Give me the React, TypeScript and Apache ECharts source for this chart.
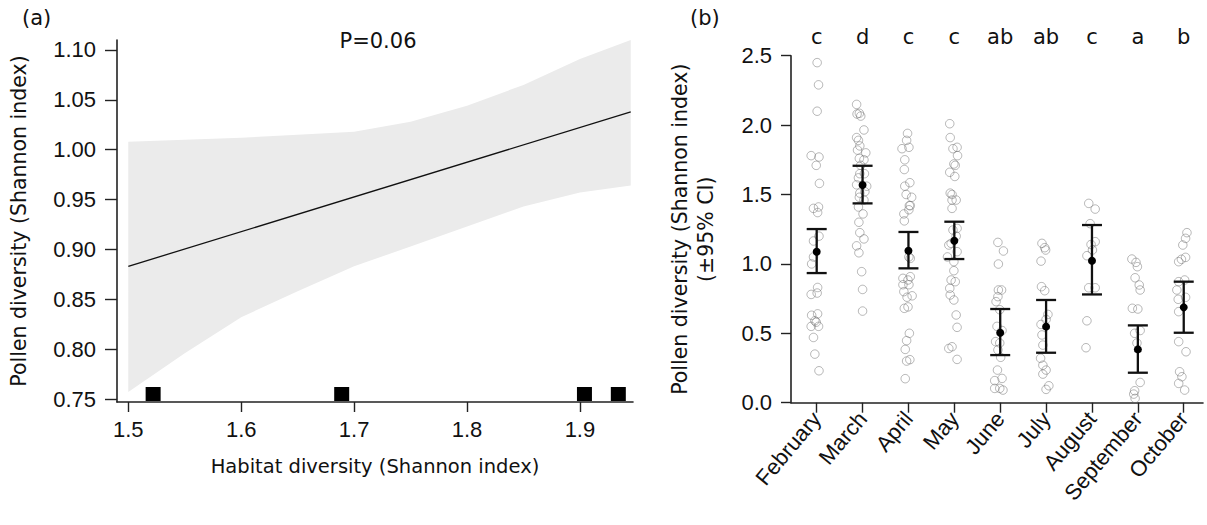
import React, { useEffect, useRef } from "react";
import * as echarts from "echarts";

// ---------- Panel (a) data ----------
const habitatTicks = [1.5, 1.6, 1.7, 1.8, 1.9];
const pollenTicksA = [0.75, 0.8, 0.85, 0.9, 0.95, 1.0, 1.05, 1.1];
const bandX = [1.5, 1.55, 1.6, 1.65, 1.7, 1.75, 1.8, 1.85, 1.9, 1.945];
const bandUpper = [1.008, 1.01, 1.012, 1.015, 1.018, 1.028, 1.044, 1.065, 1.091, 1.11];
const bandLower = [0.757, 0.796, 0.832, 0.858, 0.883, 0.903, 0.923, 0.943, 0.957, 0.964];
const fitX = [1.5, 1.945];
const fitY = [0.883, 1.038];
const rugX = [1.522, 1.689, 1.904, 1.934];
const rugY = 0.75;

// ---------- Panel (b) data ----------
const months = ["February", "March", "April", "May", "June", "July", "August", "September", "October"];
const letters = ["c", "d", "c", "c", "ab", "ab", "c", "a", "b"];
const means = [1.088, 1.568, 1.095, 1.167, 0.504, 0.548, 1.023, 0.384, 0.687];
const ciLow = [0.934, 1.436, 0.968, 1.035, 0.343, 0.36, 0.78, 0.216, 0.504];
const ciHigh = [1.251, 1.707, 1.23, 1.304, 0.675, 0.74, 1.28, 0.557, 0.872];

// [jitter offset (category units), Shannon index]
const febPoints = [[0.01, 2.45], [0.04, 2.29], [0.01, 2.1], [-0.12, 1.78], [0.05, 1.77], [-0.01, 1.71], [0.06, 1.58], [-0.07, 1.4], [0.04, 1.41], [0.02, 1.37], [0.05, 1.2], [-0.07, 1.165], [-0.07, 1.05], [-0.11, 1.0], [0.02, 0.83], [-0.12, 0.78], [0.01, 0.79], [-0.11, 0.63], [0.02, 0.64], [-0.04, 0.59], [-0.12, 0.55], [0.04, 0.55], [-0.01, 0.58], [-0.07, 0.47], [-0.04, 0.35], [0.05, 0.23]];
const marPoints = [[-0.13, 2.149], [-0.12, 2.08], [-0.04, 2.065], [-0.07, 2.085], [0.03, 1.965], [-0.13, 1.91], [-0.09, 1.89], [-0.06, 1.85], [-0.11, 1.82], [0.07, 1.8], [-0.07, 1.76], [0.03, 1.75], [-0.04, 1.71], [-0.06, 1.65], [0.04, 1.65], [-0.09, 1.62], [-0.13, 1.57], [0.09, 1.56], [-0.06, 1.51], [0.05, 1.52], [-0.07, 1.48], [0.03, 1.46], [-0.09, 1.41], [0.01, 1.36], [-0.08, 1.3], [-0.06, 1.225], [0.03, 1.18], [-0.13, 1.13], [-0.08, 1.08], [-0.02, 0.944], [0.0, 0.816], [0.0, 0.66]];
const aprPoints = [[-0.02, 1.94], [-0.04, 1.89], [-0.14, 1.83], [0.01, 1.84], [-0.08, 1.75], [-0.09, 1.68], [-0.08, 1.56], [0.03, 1.585], [-0.05, 1.5], [0.07, 1.48], [0.04, 1.42], [0.02, 1.42], [-0.1, 1.36], [0.01, 1.39], [-0.09, 1.31], [0.01, 1.05], [0.04, 1.04], [-0.12, 0.896], [-0.01, 0.884], [0.04, 0.908], [-0.12, 0.85], [0.01, 0.85], [-0.1, 0.8], [0.08, 0.77], [-0.03, 0.76], [-0.09, 0.68], [-0.01, 0.69], [0.02, 0.5], [-0.04, 0.447], [-0.07, 0.384], [-0.04, 0.3], [0.03, 0.31], [-0.07, 0.173]];
const mayPoints = [[-0.1, 2.01], [-0.09, 1.91], [-0.03, 1.83], [0.06, 1.84], [0.07, 1.78], [-0.01, 1.72], [0.02, 1.71], [-0.1, 1.66], [0.01, 1.63], [-0.09, 1.51], [-0.05, 1.5], [0.04, 1.46], [-0.05, 1.46], [-0.05, 1.4], [0.06, 1.256], [-0.03, 1.244], [0.04, 1.2], [-0.12, 1.136], [-0.07, 1.148], [0.06, 1.088], [-0.15, 1.05], [-0.01, 1.016], [-0.01, 0.951], [0.02, 0.872], [-0.07, 0.884], [-0.1, 0.824], [-0.09, 0.776], [-0.01, 0.74], [0.04, 0.632], [0.06, 0.543], [-0.12, 0.391], [-0.05, 0.403], [0.06, 0.312]];
const junPoints = [[-0.05, 1.155], [0.07, 1.093], [-0.04, 0.999], [-0.04, 0.812], [0.03, 0.812], [-0.05, 0.764], [-0.09, 0.728], [-0.01, 0.67], [-0.07, 0.55], [0.04, 0.52], [-0.1, 0.44], [-0.01, 0.43], [-0.05, 0.38], [0.01, 0.327], [-0.06, 0.235], [-0.12, 0.159], [0.04, 0.175], [-0.12, 0.103], [-0.01, 0.103], [0.06, 0.091]];
const julPoints = [[-0.09, 1.148], [-0.03, 1.117], [-0.01, 1.1], [-0.11, 1.02], [-0.1, 0.836], [-0.03, 0.807], [0.04, 0.636], [0.0, 0.6], [-0.11, 0.564], [-0.09, 0.488], [-0.07, 0.415], [-0.12, 0.32], [-0.07, 0.27], [0.0, 0.235], [-0.07, 0.206], [0.06, 0.122], [0.0, 0.096]];
const augPoints = [[-0.07, 1.436], [0.07, 1.395], [-0.04, 1.29], [0.07, 1.16], [-0.02, 1.14], [0.01, 1.1], [-0.11, 1.059], [-0.07, 0.828], [0.07, 0.828], [-0.11, 0.59], [-0.13, 0.396]];
const sepPoints = [[-0.13, 1.035], [-0.04, 1.011], [-0.01, 0.98], [-0.06, 0.9], [0.03, 0.848], [0.05, 0.812], [-0.12, 0.68], [0.0, 0.675], [-0.07, 0.5], [0.05, 0.52], [-0.02, 0.43], [0.05, 0.146], [-0.07, 0.086], [-0.09, 0.062], [-0.06, 0.031]];
const octPoints = [[0.07, 1.225], [0.04, 1.184], [-0.02, 1.136], [-0.11, 1.016], [-0.05, 1.033], [0.04, 1.047], [-0.11, 0.872], [0.02, 0.884], [-0.15, 0.812], [-0.12, 0.745], [0.04, 0.759], [-0.11, 0.656], [-0.11, 0.44], [0.05, 0.367], [-0.09, 0.223], [-0.04, 0.187], [-0.11, 0.139], [0.02, 0.091]];
const monthPoints = [febPoints, marPoints, aprPoints, mayPoints, junPoints, julPoints, augPoints, sepPoints, octPoints];

const TICK_FONT = "'Liberation Sans', Arial, sans-serif";
const TITLE_FONT = "'DejaVu Sans', Verdana, sans-serif";
const AXIS_COLOR = "#222";

export default function App() {
  const ref = useRef<HTMLDivElement>(null);

  useEffect(() => {
    if (!ref.current) return;
    const chart = echarts.init(ref.current, null, { renderer: "svg" });
    const monthIdx = months.map((_, i) => i);

    const scatterData: number[][] = [];
    monthPoints.forEach((pts, i) => pts.forEach(([o, v]) => scatterData.push([i + o, v])));

    const option: any = {
      animation: false,
      backgroundColor: "#fff",
      grid: [
        { left: 117, top: 40, width: 516, height: 362 },
        { left: 791, top: 55.7, width: 412, height: 347 },
      ],
      xAxis: [
        {
          gridIndex: 0,
          type: "value",
          min: 1.49,
          max: 1.947,
          splitLine: { show: false },
          axisLine: { onZero: false, lineStyle: { color: AXIS_COLOR, width: 1.6 } },
          axisTick: { length: 10, customValues: habitatTicks, lineStyle: { color: AXIS_COLOR, width: 1.4 } },
          axisLabel: {
            customValues: habitatTicks,
            formatter: (v: number) => v.toFixed(1),
            fontSize: 22,
            fontFamily: TICK_FONT,
            color: "#111",
            margin: 16,
          },
          name: "Habitat diversity (Shannon index)",
          nameLocation: "middle",
          nameGap: 54,
          nameTextStyle: { fontSize: 19.5, fontFamily: TITLE_FONT, color: "#111" },
        },
        {
          gridIndex: 1,
          type: "value",
          min: -0.56,
          max: 8.42,
          splitLine: { show: false },
          axisLine: { onZero: false, lineStyle: { color: AXIS_COLOR, width: 1.6 } },
          axisTick: { length: 10, customValues: monthIdx, lineStyle: { color: AXIS_COLOR, width: 1.4 } },
          axisLabel: {
            customValues: monthIdx,
            formatter: (v: number) => months[Math.round(v)] || "",
            rotate: 50,
            fontSize: 22,
            fontFamily: TICK_FONT,
            color: "#111",
            margin: 12,
          },
        },
        {
          gridIndex: 1,
          type: "value",
          position: "top",
          min: -0.56,
          max: 8.42,
          splitLine: { show: false },
          axisLine: { show: false },
          axisTick: { show: false },
          axisLabel: {
            customValues: monthIdx,
            formatter: (v: number) => letters[Math.round(v)] || "",
            fontSize: 21,
            fontFamily: TITLE_FONT,
            color: "#111",
            margin: 8,
          },
        },
      ],
      yAxis: [
        {
          gridIndex: 0,
          type: "value",
          min: 0.747,
          max: 1.11,
          splitLine: { show: false },
          axisLine: { onZero: false, lineStyle: { color: AXIS_COLOR, width: 1.6 } },
          axisTick: { length: 12, customValues: pollenTicksA, lineStyle: { color: AXIS_COLOR, width: 1.4 } },
          axisLabel: {
            customValues: pollenTicksA,
            formatter: (v: number) => v.toFixed(2),
            fontSize: 22,
            fontFamily: TICK_FONT,
            color: "#111",
            margin: 21,
          },
          name: "Pollen diversity (Shannon index)",
          nameLocation: "middle",
          nameGap: 88,
          nameTextStyle: { fontSize: 20.5, fontFamily: TITLE_FONT, color: "#111" },
        },
        {
          gridIndex: 1,
          type: "value",
          min: 0,
          max: 2.5,
          interval: 0.5,
          splitLine: { show: false },
          axisLine: { onZero: false, lineStyle: { color: AXIS_COLOR, width: 1.6 } },
          axisTick: { length: 10, lineStyle: { color: AXIS_COLOR, width: 1.4 } },
          axisLabel: {
            formatter: (v: number) => v.toFixed(1),
            fontSize: 22,
            fontFamily: TICK_FONT,
            color: "#111",
            margin: 19,
          },
          name: "Pollen diversity (Shannon index)\n(±95% CI)",
          nameLocation: "middle",
          nameGap: 72,
          nameTextStyle: { fontSize: 20.5, lineHeight: 26, fontFamily: TITLE_FONT, color: "#111", align: "center" },
        },
      ],
      series: [
        {
          type: "custom",
          xAxisIndex: 0,
          yAxisIndex: 0,
          silent: true,
          clip: false,
          z: 1,
          data: [[bandX[0], bandLower[0]]],
          renderItem: (_p: any, api: any) => {
            const pts: number[][] = [];
            bandX.forEach((x, i) => pts.push(api.coord([x, bandUpper[i]])));
            for (let i = bandX.length - 1; i >= 0; i--) pts.push(api.coord([bandX[i], bandLower[i]]));
            return { type: "polygon", shape: { points: pts }, style: { fill: "#ebebeb", stroke: "none" } };
          },
        },
        {
          type: "line",
          xAxisIndex: 0,
          yAxisIndex: 0,
          symbol: "none",
          silent: true,
          z: 2,
          data: fitX.map((x, i) => [x, fitY[i]]),
          lineStyle: { color: "#111", width: 1.3 },
        },
        {
          type: "scatter",
          xAxisIndex: 0,
          yAxisIndex: 0,
          symbol: "rect",
          symbolSize: [15, 14],
          symbolOffset: [0, -5],
          clip: false,
          silent: true,
          z: 3,
          data: rugX.map((x) => [x, rugY]),
          itemStyle: { color: "#000", opacity: 1 },
        },
        {
          type: "scatter",
          xAxisIndex: 1,
          yAxisIndex: 1,
          symbol: "circle",
          symbolSize: 8.5,
          silent: true,
          z: 2,
          data: scatterData,
          itemStyle: { color: "rgba(255,255,255,0)", borderColor: "rgba(105,105,105,0.6)", borderWidth: 1 },
        },
        {
          type: "custom",
          xAxisIndex: 1,
          yAxisIndex: 1,
          silent: true,
          z: 3,
          encode: { x: 0, y: [1, 2] },
          data: months.map((_, i) => [i, ciLow[i], ciHigh[i]]),
          renderItem: (_p: any, api: any) => {
            const x = api.value(0);
            const lo = api.coord([x, api.value(1)]);
            const hi = api.coord([x, api.value(2)]);
            const w = 10;
            const st = { stroke: "#111", lineWidth: 2.3 };
            return {
              type: "group",
              children: [
                { type: "line", shape: { x1: lo[0], y1: lo[1], x2: hi[0], y2: hi[1] }, style: st },
                { type: "line", shape: { x1: lo[0] - w, y1: lo[1], x2: lo[0] + w, y2: lo[1] }, style: st },
                { type: "line", shape: { x1: hi[0] - w, y1: hi[1], x2: hi[0] + w, y2: hi[1] }, style: st },
              ],
            };
          },
        },
        {
          type: "scatter",
          xAxisIndex: 1,
          yAxisIndex: 1,
          symbol: "circle",
          symbolSize: 8,
          silent: true,
          z: 4,
          data: means.map((m, i) => [i, m]),
          itemStyle: { color: "#000", opacity: 1 },
        },
      ],
      graphic: [
        { type: "text", left: 22, top: 7, style: { text: "(a)", font: `21px ${TITLE_FONT}`, fill: "#111" } },
        { type: "text", left: 690, top: 7, style: { text: "(b)", font: `21px ${TITLE_FONT}`, fill: "#111" } },
        {
          type: "text",
          x: 378,
          y: 41,
          style: { text: "P=0.06", font: `21px ${TITLE_FONT}`, fill: "#111", align: "center", verticalAlign: "middle" },
        },
      ],
    };

    chart.setOption(option);
    return () => chart.dispose();
  }, []);

  return <div ref={ref} style={{ position: "fixed", left: 0, top: 0, width: 1207, height: 525, background: "#fff" }} />;
}
